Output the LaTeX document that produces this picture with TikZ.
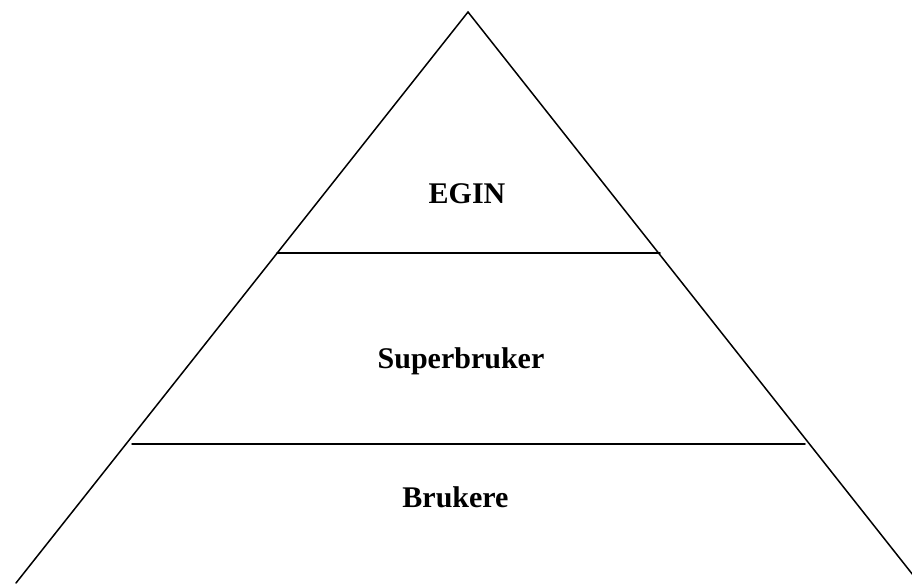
\documentclass[tikz,border=0pt]{standalone}
\usepackage{fontspec}
\setmainfont{Liberation Serif}
\begin{document}
\begin{tikzpicture}[x=1pt,y=-1pt,
  edge/.style={line width=1.5pt, line cap=round},
  lbl/.style={font=\fontsize{30}{36}\selectfont\bfseries, anchor=base, inner sep=0pt}]
\useasboundingbox (0,0) rectangle (912,584);
\coordinate (apex) at (468,12);
\coordinate (bl) at (16,583);
\coordinate (br) at (913,575);
\coordinate (t1) at (277,253);
\coordinate (t2) at (660,253);
\coordinate (b1) at (132,444);
\coordinate (b2) at (805,444);
\draw[edge] (bl) -- (apex) -- (br);
\draw[edge] (t1) -- (t2);
\draw[edge] (b1) -- (b2);
\node[lbl] (egin) at (467,203) {EGIN};
\node[lbl] (super) at (461,368) {Superbruker};
\node[lbl] (bruk) at (455.5,507) {Brukere};
\end{tikzpicture}
\end{document}
